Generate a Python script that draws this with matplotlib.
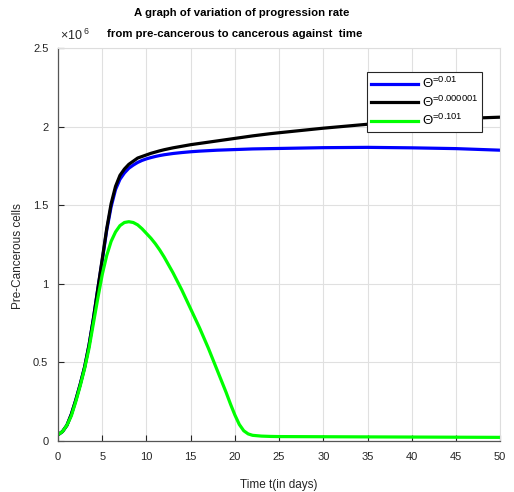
import matplotlib
matplotlib.use("Agg")
import matplotlib.pyplot as plt

plt.rcParams['font.family'] = ['Liberation Sans', 'DejaVu Sans']
plt.rcParams['mathtext.fontset'] = 'custom'
plt.rcParams['mathtext.rm'] = 'Liberation Sans'
plt.rcParams['mathtext.it'] = 'Liberation Sans'

# time points (days) and cell counts in units of 1e6
t = [0, 0.5, 1, 1.5, 2, 2.5, 3, 3.5, 4, 4.5, 5, 5.5, 6, 6.5, 7, 7.5, 8, 8.5, 9, 9.5, 10, 10.5, 11, 11.5, 12,
     13, 14, 15, 16, 17, 18, 19, 19.5, 20, 20.5, 21, 21.5, 22, 23, 24, 25, 30, 35, 40, 45, 50]
theta_001 = [0.04, 0.06, 0.10, 0.17, 0.26, 0.36, 0.47, 0.61, 0.78, 0.97, 1.15, 1.34, 1.49, 1.60, 1.665, 1.705,
             1.735, 1.755, 1.772, 1.785, 1.795, 1.803, 1.81, 1.816, 1.821,
             1.829, 1.835, 1.84, 1.844, 1.847, 1.85, 1.852, 1.853, 1.854, 1.855, 1.856, 1.857, 1.858, 1.859,
             1.86, 1.861, 1.866, 1.868, 1.865, 1.86, 1.85]
theta_000001 = [0.04, 0.06, 0.10, 0.17, 0.26, 0.36, 0.47, 0.61, 0.78, 0.97, 1.16, 1.35, 1.51, 1.62, 1.69, 1.73,
                1.76, 1.78, 1.80, 1.81, 1.82, 1.83, 1.838, 1.846, 1.853,
                1.865, 1.875, 1.885, 1.893, 1.901, 1.909, 1.917, 1.921, 1.925, 1.929, 1.933, 1.937, 1.941, 1.948,
                1.955, 1.961, 1.99, 2.015, 2.035, 2.05, 2.06]
theta_0101 = [0.04, 0.06, 0.10, 0.16, 0.25, 0.35, 0.46, 0.59, 0.75, 0.91, 1.06, 1.18, 1.27, 1.33, 1.37, 1.39,
              1.395, 1.39, 1.375, 1.35, 1.32, 1.29, 1.255, 1.215, 1.17,
              1.07, 0.96, 0.84, 0.72, 0.59, 0.45, 0.31, 0.235, 0.165, 0.105, 0.065, 0.045, 0.036, 0.031,
              0.029, 0.028, 0.027, 0.026, 0.025, 0.024, 0.023]

labels = [r'Θ$^{\text{=0.01}}$', r'Θ$^{\text{=0.000001}}$', r'Θ$^{\text{=0.101}}$']
colors = ['#0000ff', '#000000', '#00ff00']

fig = plt.figure(figsize=(5.14, 4.92), dpi=100)
ax = fig.add_axes([0.113, 0.1037, 0.86, 0.7987])

for y, lab, c in zip([theta_001, theta_000001, theta_0101], labels, colors):
    ax.plot(t, y, color=c, linewidth=2.3, label=lab, solid_joinstyle='round')

ax.set_xlim(0, 50)
ax.set_ylim(0, 2.5)
ax.set_xticks(range(0, 51, 5))
ax.set_yticks([0, 0.5, 1, 1.5, 2, 2.5])
ax.set_yticklabels(['0', '0.5', '1', '1.5', '2', '2.5'])
ax.grid(True, color='#e0e0e0', linewidth=0.8)
ax.tick_params(direction='in', labelsize=8, colors='#262626', length=4, width=0.8)
ax.tick_params(axis='x', pad=8)
ax.tick_params(axis='y', pad=7)
for s in ['left', 'bottom']:
    ax.spines[s].set_color('#555555')
    ax.spines[s].set_linewidth(0.9)
for s in ['top', 'right']:
    ax.spines[s].set_color('#dddddd')
    ax.spines[s].set_linewidth(0.8)

ax.set_xlabel('Time t(in days)', fontsize=8.5, color='#262626', labelpad=12)
ax.set_ylabel('Pre-Cancerous cells', fontsize=8.5, color='#262626')
ax.yaxis.set_label_coords(-0.077, 0.47)

fig.text(0.117, 0.918, r'$\times$10$^{\ 6}$', fontsize=9, color='#262626')
fig.text(0.47, 0.974, 'A graph of variation of progression rate', fontsize=8.2,
         fontweight='bold', ha='center', va='center')
fig.text(0.457, 0.93, 'from pre-cancerous to cancerous against  time', fontsize=8.2,
         fontweight='bold', ha='center', va='center')

leg = ax.legend(loc='upper right', bbox_to_anchor=(0.975, 0.955), fontsize=9.5, fancybox=False,
                framealpha=1, edgecolor='#262626', handlelength=3.6, borderpad=0.3,
                labelspacing=0.25, handletextpad=0.3)
leg.get_frame().set_linewidth(0.8)

fig.savefig('out.png', dpi=100)
